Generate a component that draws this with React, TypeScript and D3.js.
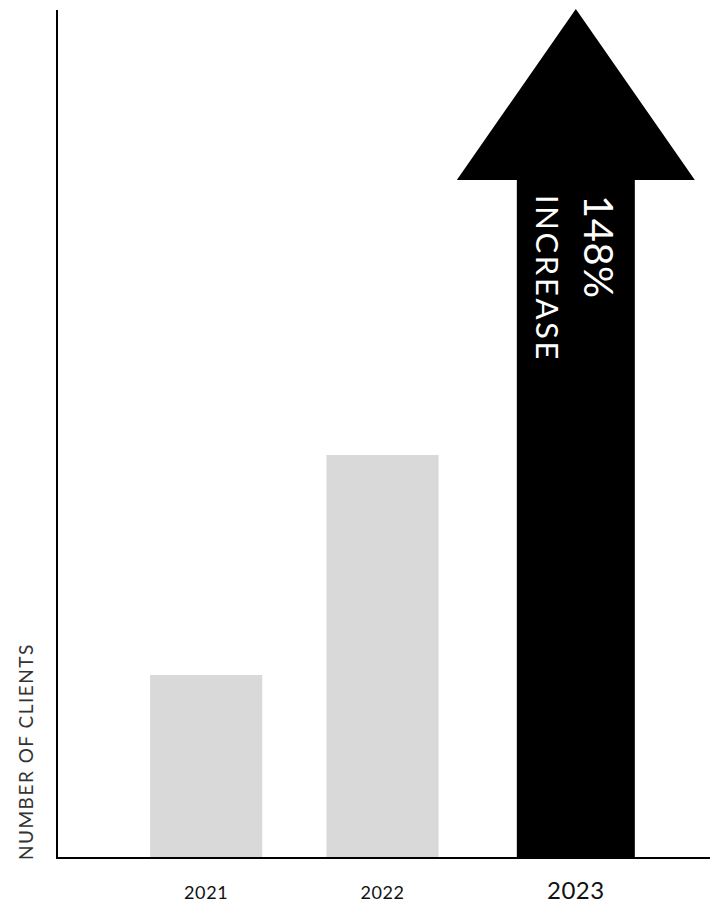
import React from "react";
import * as d3 from "d3";

const years = ["2021", "2022", "2023"];
const barValues = [183, 403]; // 2021, 2022 (relative client counts)
const arrowHeadBase = 678; // 2023 arrow shaft top
const arrowTip = 849; // 2023 arrow tip
const increaseLabel = "148%";
const increaseWord = "INCREASE";
const yTitle = "NUMBER OF CLIENTS";

const W = 710;
const H = 905;
const FONT = "Lato, 'Open Sans', sans-serif";

export default function App() {
  const left = 57;
  const baseY = 858;
  const x = d3
    .scaleBand<string>()
    .domain(years)
    .range([left, 708])
    .paddingInner(0.364)
    .paddingOuter(0.528);
  const y = d3.scaleLinear().domain([0, 850]).range([baseY, 8]);

  const arrowShift = 17;
  const cx = (x("2023") as number) + x.bandwidth() / 2 + arrowShift;
  const shaftHalf = 59;
  const headHalf = 119;
  const arrowPath = d3.path();
  arrowPath.moveTo(cx - shaftHalf, y(0));
  arrowPath.lineTo(cx - shaftHalf, y(arrowHeadBase));
  arrowPath.lineTo(cx - headHalf, y(arrowHeadBase));
  arrowPath.lineTo(cx, y(arrowTip));
  arrowPath.lineTo(cx + headHalf, y(arrowHeadBase));
  arrowPath.lineTo(cx + shaftHalf, y(arrowHeadBase));
  arrowPath.lineTo(cx + shaftHalf, y(0));
  arrowPath.closePath();

  const textTop = y(arrowHeadBase) + 15;

  return (
    <svg
      width={W}
      height={H}
      style={{ position: "absolute", left: 0, top: 0, background: "#fff" }}
      fontFamily={FONT}
    >
      {barValues.map((v, i) => (
        <rect
          key={years[i]}
          x={x(years[i])}
          y={y(v)}
          width={x.bandwidth()}
          height={y(0) - y(v)}
          fill="#d9d9d9"
        />
      ))}
      <path d={arrowPath.toString()} fill="#000" />
      <text
        transform={`translate(${cx + 8},${textTop}) rotate(90)`}
        fill="#fff"
        fontSize={40}
        letterSpacing={0.5}
      >
        {increaseLabel}
      </text>
      <text
        transform={`translate(${cx - 40},${textTop}) rotate(90)`}
        fill="#fff"
        fontSize={31}
        letterSpacing={2.6}
      >
        {increaseWord}
      </text>
      <line x1={left} x2={left} y1={10} y2={baseY + 1} stroke="#000" strokeWidth={2} />
      <line x1={left - 1} x2={W} y1={baseY} y2={baseY} stroke="#000" strokeWidth={2} />
      {years.map((yr, i) => {
        const isLast = i === years.length - 1;
        const px = (x(yr) as number) + x.bandwidth() / 2 + (isLast ? arrowShift : 0);
        return (
          <text
            key={yr}
            x={px}
            y={899}
            textAnchor="middle"
            fontSize={isLast ? 24 : 18}
            letterSpacing={isLast ? 0.5 : 0.6}
            fill="#111"
          >
            {yr}
          </text>
        );
      })}
      <text
        transform={`translate(33,${baseY + 2}) rotate(-90)`}
        fontSize={19}
        letterSpacing={1.5}
        fill="#333"
      >
        {yTitle}
      </text>
    </svg>
  );
}
